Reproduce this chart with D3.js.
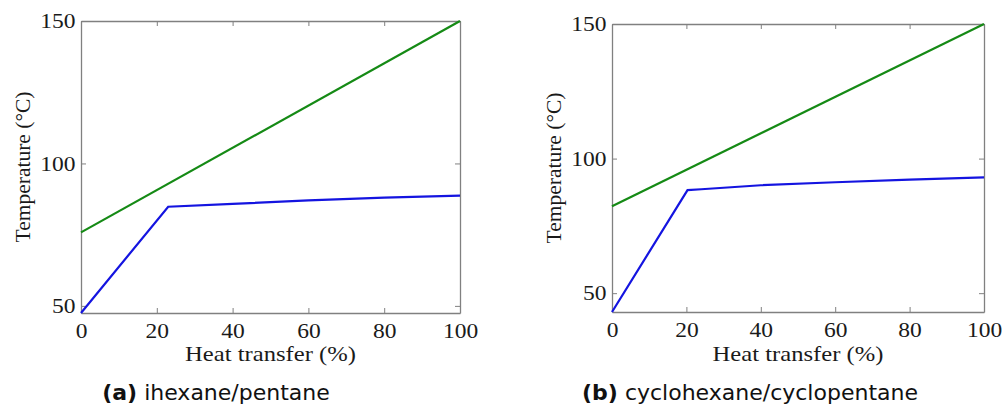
<!DOCTYPE html>
<html>
<head>
<meta charset="utf-8">
<script src="https://cdn.jsdelivr.net/npm/d3@7"></script>
<style>
  body { margin: 0; background: #fff; }
  svg { display: block; }
  .tick text { font-family: "Liberation Serif", "Times New Roman", serif; }
</style>
</head>
<body>
<svg id="chart" width="1008" height="412"></svg>
<script>
(function(d3) {
  "use strict";

  // heat transfer (%) vs temperature (°C)
  var xTicks = [0, 20, 40, 60, 80, 100];
  var yTicks = [50, 100, 150];

  var hotA = [[0, 75.8], [100, 150]];
  var coldA = [[0, 47.5], [23, 84.8], [40, 85.8], [60, 87.0], [80, 88.0], [100, 88.7]];

  var hotB = [[0, 82.3], [100, 150]];
  var coldB = [[0, 43], [20.3, 88.3], [24, 88.6], [40, 90.1], [60, 91.2], [80, 92.2], [100, 93.0]];

  var panels = [
    { tag: "(a)", name: "ihexane/pentane", hot: hotA, cold: coldA, yMin: 47.5,
      left: 81, right: 460, top: 21, bottom: 313, capX: 216 },
    { tag: "(b)", name: "cyclohexane/cyclopentane", hot: hotB, cold: coldB, yMin: 43,
      left: 612, right: 984, top: 24, bottom: 312, capX: 750 }
  ];

  var svg = d3.select("#chart");

  panels.forEach(function(p) {
    var x = d3.scaleLinear().domain([0, 100]).range([p.left, p.right]);
    var y = d3.scaleLinear().domain([p.yMin, 150]).range([p.bottom, p.top]);

    var g = svg.append("g");

    var axes = [
      { ax: d3.axisBottom(x).tickValues(xTicks), t: "translate(0," + p.bottom + ")", lab: true, pad: 10 },
      { ax: d3.axisTop(x).tickValues(xTicks), t: "translate(0," + p.top + ")", lab: false, pad: 10 },
      { ax: d3.axisLeft(y).tickValues(yTicks), t: "translate(" + p.left + ",0)", lab: true, pad: 5 },
      { ax: d3.axisRight(y).tickValues(yTicks), t: "translate(" + p.right + ",0)", lab: false, pad: 10 }
    ];

    axes.forEach(function(a) {
      a.ax.tickSizeOuter(0).tickSizeInner(-5).tickPadding(a.pad);
      if (!a.lab) a.ax.tickFormat("");
      var ag = g.append("g").attr("transform", a.t).call(a.ax);
      ag.attr("font-size", 21);
      ag.select(".domain").attr("stroke", "#808080").attr("stroke-width", 1.3);
      ag.selectAll(".tick line").attr("stroke", "#808080");
      // the source figure is a little stretched sideways
      ag.selectAll(".tick text").attr("fill", "#1a1a1a").attr("transform", "scale(1.12,1)");
    });

    var line = d3.line().x(function(d) { return x(d[0]); }).y(function(d) { return y(d[1]); });

    g.append("path").datum(p.hot).attr("d", line)
      .attr("fill", "none").attr("stroke", "#158a15").attr("stroke-width", 2.2);
    g.append("path").datum(p.cold).attr("d", line)
      .attr("fill", "none").attr("stroke", "#1414e0").attr("stroke-width", 2.2);

    g.append("text")
      .attr("transform", "translate(" + ((p.left + p.right) / 2) + ",361) scale(1.12,1)")
      .attr("text-anchor", "middle")
      .style("font-family", "'Liberation Serif', serif")
      .style("font-size", "22px")
      .attr("fill", "#1a1a1a")
      .text("Heat transfer (%)");

    g.append("text")
      .attr("transform", "translate(" + (p.left - 51) + "," + ((p.top + p.bottom) / 2) + ") rotate(-90)")
      .attr("text-anchor", "middle")
      .style("font-family", "'Liberation Serif', serif")
      .style("font-size", "21.5px")
      .attr("fill", "#1a1a1a")
      .text("Temperature (°C)");

    var cap = g.append("text")
      .attr("x", p.capX)
      .attr("y", 400)
      .attr("text-anchor", "middle")
      .style("font-family", "'DejaVu Sans', sans-serif")
      .style("font-size", "22px")
      .attr("fill", "#111");
    cap.append("tspan").style("font-weight", "bold").text(p.tag);
    cap.append("tspan").text(" " + p.name);
  });

}(d3));
</script>
</body>
</html>
